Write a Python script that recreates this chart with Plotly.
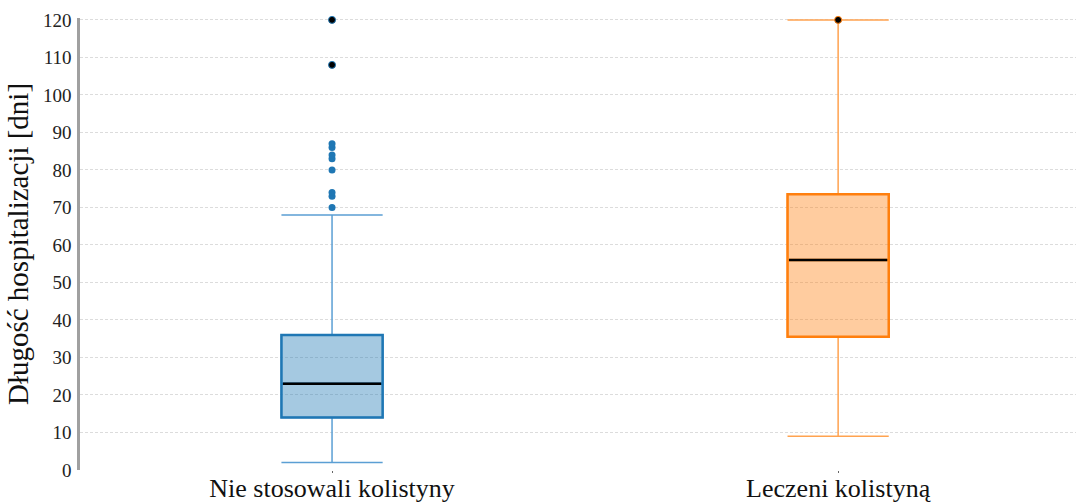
import plotly.graph_objects as go

# Group labels and summary statistics (days of hospitalisation)
groups = ["Nie stosowali kolistyny", "Leczeni kolistyną"]
q1 = [14, 35.5]
median = [23, 56]
q3 = [36, 73.5]
lower_whisker = [2, 9]
upper_whisker = [68, 120]

# Outlying observations per group
outliers_blue = [70, 73, 74, 80, 83, 84, 86, 87]
extremes_blue = [108, 120]
extremes_orange = [120]

y_ticks = [0, 10, 20, 30, 40, 50, 60, 70, 80, 90, 100, 110, 120]

line_colors = ["#1f77b4", "#ff7f0e"]
whisker_colors = ["#5b9fd4", "#ffa350"]
fill_colors = ["rgba(31,119,180,0.4)", "rgba(255,127,14,0.4)"]

BOX_W = 0.2
fig = go.Figure()

for i in range(len(groups)):
    # whiskers and caps (thin, lighter)
    fig.add_trace(go.Box(
        x=[i], q1=[q1[i]], median=[median[i]], q3=[q3[i]],
        lowerfence=[lower_whisker[i]], upperfence=[upper_whisker[i]],
        width=BOX_W, whiskerwidth=1, boxpoints=False,
        line=dict(color=whisker_colors[i], width=1.5),
        fillcolor="rgba(0,0,0,0)", hoverinfo="skip", showlegend=False,
    ))
    # filled interquartile box with bold outline
    fig.add_trace(go.Box(
        x=[i], q1=[q1[i]], median=[median[i]], q3=[q3[i]],
        lowerfence=[q1[i]], upperfence=[q3[i]],
        width=BOX_W, whiskerwidth=0, boxpoints=False,
        line=dict(color=line_colors[i], width=2.5),
        fillcolor=fill_colors[i], showlegend=False,
    ))
    # median line
    fig.add_trace(go.Scatter(
        x=[i - BOX_W / 2 + 0.003, i + BOX_W / 2 - 0.003], y=[median[i], median[i]],
        mode="lines", line=dict(color="black", width=2.5),
        hoverinfo="skip", showlegend=False,
    ))

fig.add_trace(go.Scatter(
    x=[0] * len(outliers_blue), y=outliers_blue, mode="markers",
    marker=dict(color="#1f77b4", size=7), showlegend=False, cliponaxis=False,
))
fig.add_trace(go.Scatter(
    x=[0] * len(extremes_blue), y=extremes_blue, mode="markers",
    marker=dict(color="black", size=7, line=dict(color="#1f77b4", width=1)),
    showlegend=False, cliponaxis=False,
))
fig.add_trace(go.Scatter(
    x=[1] * len(extremes_orange), y=extremes_orange, mode="markers",
    marker=dict(color="black", size=7, line=dict(color="#ff7f0e", width=1)),
    showlegend=False, cliponaxis=False,
))

fig.update_layout(
    width=1076, height=502,
    margin=dict(l=80, r=0, t=18, b=32),
    paper_bgcolor="white", plot_bgcolor="white",
    font=dict(family="Liberation Serif, Times New Roman, serif", color="#111"),
    xaxis=dict(
        range=[-0.498, 1.470], tickmode="array", tickvals=[0, 1], ticktext=groups,
        tickfont=dict(size=26, color="#111"), showgrid=False, zeroline=False,
        showline=False, ticks="outside", ticklen=2, tickwidth=1, tickcolor="#666",
        automargin=False, ticklabelstandoff=-7,
    ),
    yaxis=dict(
        range=[0, 120.5], tickmode="array", tickvals=y_ticks,
        tickfont=dict(size=19, color="#222"),
        title=dict(text="Długość hospitalizacji [dni]", font=dict(size=29, color="#111"), standoff=6),
        showgrid=True, gridcolor="#dcdcdc", gridwidth=1, griddash="3px,2px",
        zeroline=False, showline=True, linecolor="#a0a0a0", linewidth=2.5,
        ticks="", ticklabelstandoff=2, automargin=False,
    ),
)

fig.write_html("out.html")
